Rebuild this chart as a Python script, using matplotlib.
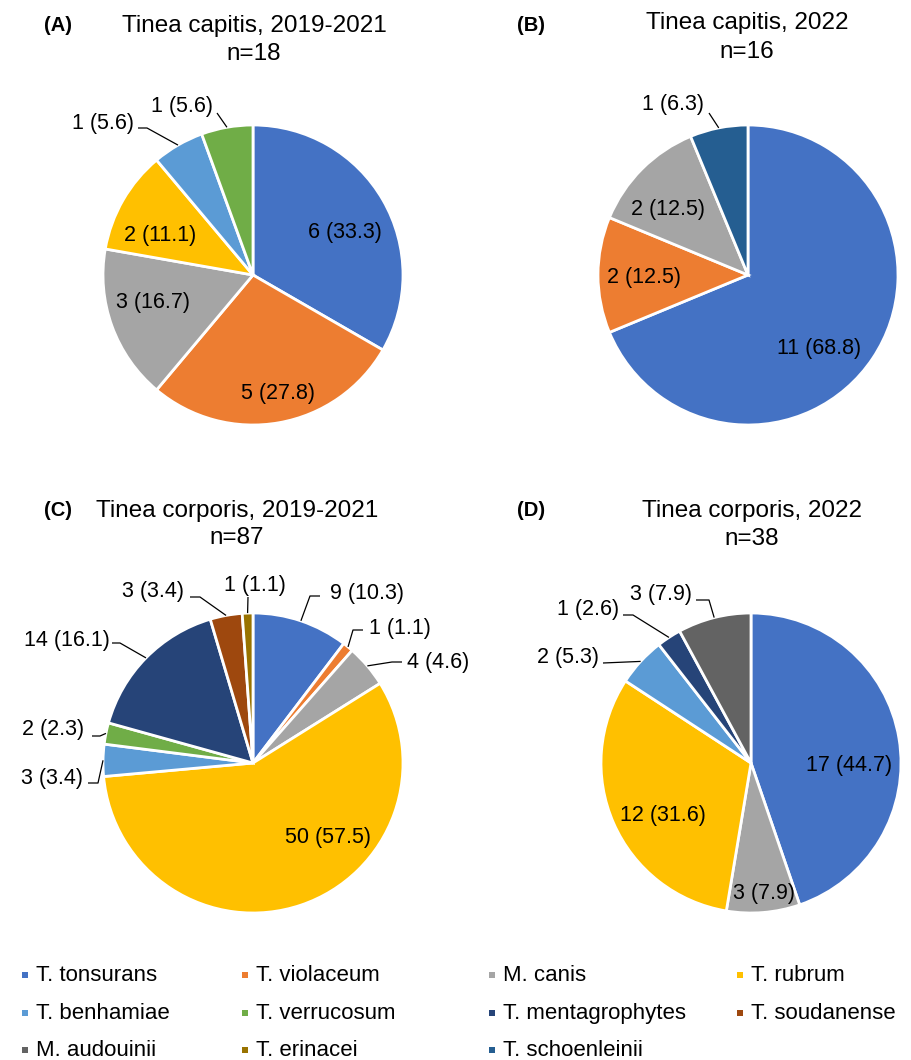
import math

import matplotlib
matplotlib.use("Agg")
import matplotlib.pyplot as plt

W, H = 912, 1060
plt.rcParams["font.family"] = ["Liberation Sans", "DejaVu Sans"]

# виды и цвета (как в легенде)
species = ["T. tonsurans", "T. violaceum", "M. canis", "T. rubrum",
           "T. benhamiae", "T. verrucosum", "T. mentagrophytes", "T. soudanense",
           "M. audouinii", "T. erinacei", "T. schoenleinii"]
species_colors = ["#4472C4", "#ED7D31", "#A5A5A5", "#FFC000",
                  "#5B9BD5", "#70AD47", "#264478", "#9E480E",
                  "#636363", "#997300", "#255E91"]

# (A) Tinea capitis, 2019-2021
a_names = ["T. tonsurans", "T. violaceum", "M. canis", "T. rubrum", "T. benhamiae", "T. verrucosum"]
a_counts = [6, 5, 3, 2, 1, 1]

# (B) Tinea capitis, 2022
b_names = ["T. tonsurans", "T. violaceum", "M. canis", "T. schoenleinii"]
b_counts = [11, 2, 2, 1]

# (C) Tinea corporis, 2019-2021
c_names = ["T. tonsurans", "T. violaceum", "M. canis", "T. rubrum", "T. benhamiae",
           "T. verrucosum", "T. mentagrophytes", "T. soudanense", "T. erinacei"]
c_counts = [9, 1, 4, 50, 3, 2, 14, 3, 1]

# (D) Tinea corporis, 2022
d_names = ["T. tonsurans", "M. canis", "T. rubrum", "T. benhamiae", "T. mentagrophytes", "M. audouinii"]
d_counts = [17, 3, 12, 2, 1, 3]

# раскладка в пикселях: центр круга, заголовок (две строки), подписи
panels = [
    dict(tag="(A)", title="Tinea capitis, 2019-2021", names=a_names, counts=a_counts,
         center=(253, 275), title_xy=(254, 25, 53), tag_xy=(58, 25),
         labels=[(345, 232), (278, 393), (153, 302), (160, 235), (103, 123), (182, 106)],
         leaders=[None, None, None, None, [(138, 128), (147, 128)], [(217, 113)]]),
    dict(tag="(B)", title="Tinea capitis, 2022", names=b_names, counts=b_counts,
         center=(748, 275), title_xy=(747, 22, 51), tag_xy=(531, 25),
         labels=[(819, 348), (644, 277), (668, 209), (673, 104)],
         leaders=[None, None, None, [(709, 113)]]),
    dict(tag="(C)", title="Tinea corporis, 2019-2021", names=c_names, counts=c_counts,
         center=(253, 763), title_xy=(237, 510, 537), tag_xy=(58, 510),
         labels=[(367, 593), (400, 628), (438, 662), (328, 837), (52, 778),
                 (53, 729), (67, 640), (153, 591), (255, 585)],
         leaders=[[(320, 596), (310, 596)], [(363, 630), (353, 630)], [(402, 662), (392, 662)],
                  None, [(88, 783), (98, 783)], [(92, 736), (100, 736)],
                  [(112, 643), (120, 643)], [(190, 597), (200, 597)], [(248, 597)]]),
    dict(tag="(D)", title="Tinea corporis, 2022", names=d_names, counts=d_counts,
         center=(751, 763), title_xy=(752, 510, 538), tag_xy=(531, 510),
         labels=[(849, 765), (764, 893), (663, 815), (568, 657), (588, 609), (661, 594)],
         leaders=[None, None, None, [(603, 663)], [(623, 615), (633, 615)], [(696, 600), (709, 600)]]),
]
RADIUS = 150
CAP = 6  # половина высоты прописных, px (для выравнивания по базовой линии)

legend_x = [25, 245, 492, 740]
legend_y = [975, 1013, 1050]


def pct(v, n):
    # округление как в Excel (6.25 -> 6.3)
    return f"{math.floor(v / n * 1000 + 0.5) / 10:.1f}"


fig = plt.figure(figsize=(W / 100, H / 100), dpi=100)
ax = fig.add_axes([0, 0, 1, 1])
color_of = dict(zip(species, species_colors))

for p in panels:
    cx, cy = p["center"]
    n = sum(p["counts"])
    wedges, _ = ax.pie(p["counts"], colors=[color_of[s] for s in p["names"]],
                       center=(cx, H - cy), radius=RADIUS, startangle=90, counterclock=False,
                       wedgeprops=dict(edgecolor="white", linewidth=2))
    for w, v, (lx, ly), lead in zip(wedges, p["counts"], p["labels"], p["leaders"]):
        ax.text(lx, H - ly - CAP, f"{v} ({pct(v, n)})", ha="center", va="baseline", fontsize=15.5)
        if lead:
            mid = math.radians((w.theta1 + w.theta2) / 2)
            xs = [x for x, _ in lead] + [cx + RADIUS * math.cos(mid)]
            ys = [H - y for _, y in lead] + [H - cy + RADIUS * math.sin(mid)]
            ax.plot(xs, ys, color="black", lw=0.9, solid_capstyle="butt")
    tx, ty1, ty2 = p["title_xy"]
    ax.text(tx, H - ty1 - 7, p["title"], ha="center", va="baseline", fontsize=17.5)
    ax.text(tx, H - ty2 - 7, f"n={n}", ha="center", va="baseline", fontsize=17.5)
    gx, gy = p["tag_xy"]
    ax.text(gx, H - gy - CAP, p["tag"], ha="center", va="baseline", fontsize=14.5, fontweight="bold")

# легенда сеткой 4 столбца
for i, (name, col) in enumerate(zip(species, species_colors)):
    x = legend_x[i % 4]
    y = H - legend_y[i // 4]
    ax.scatter([x], [y], marker="s", s=20, color=col, linewidths=0)
    ax.text(x + 11, y - CAP, name, ha="left", va="baseline", fontsize=16)

ax.set_xlim(0, W)
ax.set_ylim(0, H)
ax.set_aspect("auto")
ax.axis("off")

fig.savefig("out.png", dpi=100)
plt.close(fig)
